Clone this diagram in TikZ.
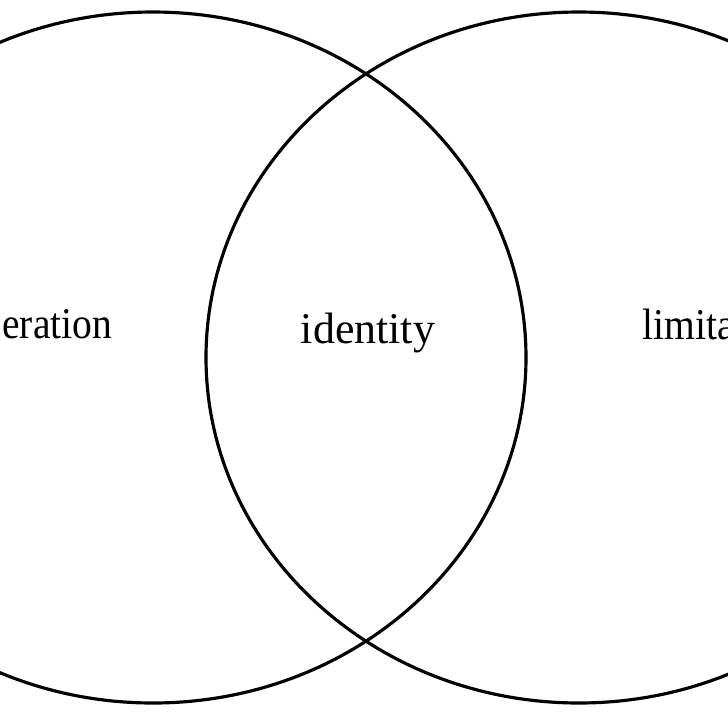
\documentclass[tikz,border=0pt]{standalone}
\usepackage{fontspec}
\setmainfont{Liberation Serif}

\begin{document}
\begin{tikzpicture}[x=0.02cm, y=-0.02cm, line width=1.8pt,
    lbl/.style={font=\fontsize{25}{30}\selectfont, inner sep=0pt}]
    % Khung
    \useasboundingbox (0,0) rectangle (728,728);
    \clip (0,0) rectangle (728,728);
    
    % Hai elip
    \draw (153,357.5) ellipse [x radius=373, y radius=345.5];
    \draw (579,357.5) ellipse [x radius=373, y radius=345.5];
    
    % Nhãn
    \node[lbl, anchor=base west, xscale=0.9] (left) at (1,338) {eration};
    \node[lbl, anchor=base] (mid) at (368,343) {identity};
    \node[lbl, anchor=base west, xscale=0.9] (right) at (641,339) {limita};
\end{tikzpicture}
\end{document}
